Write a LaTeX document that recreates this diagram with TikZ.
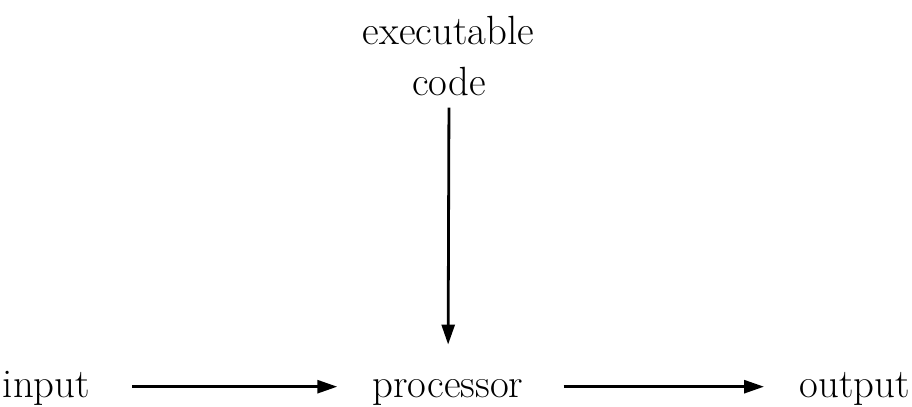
\documentclass[tikz,border=0pt]{standalone}
\usetikzlibrary{arrows.meta}

\begin{document}
\begin{tikzpicture}[x=0.5pt, y=-0.5pt,
    word/.style={font=\fontsize{20.4}{25}\selectfont, inner sep=0pt, anchor=base},
    flow/.style={-{Triangle[length=10pt,width=6.5pt]}, line width=1.4pt}]
    \useasboundingbox (0,0) rectangle (912,407);

    \node[word] (exe) at (448.5,45) {executable};
    \node[word] (code) at (449,95) {code};

    \node[word] (input) at (46.5,397) {input};
    \node[word] (processor) at (448,397) {processor};
    \node[word] (output) at (854.5,397) {output};

    \draw[flow, shorten <=6pt, shorten >=17pt] (code.south) -- (processor.north);
    \draw[flow, shorten <=21pt, shorten >=17.5pt] ([yshift=3pt]input.mid east) -- ([yshift=3pt]processor.mid west);
    \draw[flow, shorten <=20pt, shorten >=17.5pt] ([yshift=3pt]processor.mid east) -- ([yshift=3pt]output.mid west);
\end{tikzpicture}
\end{document}
